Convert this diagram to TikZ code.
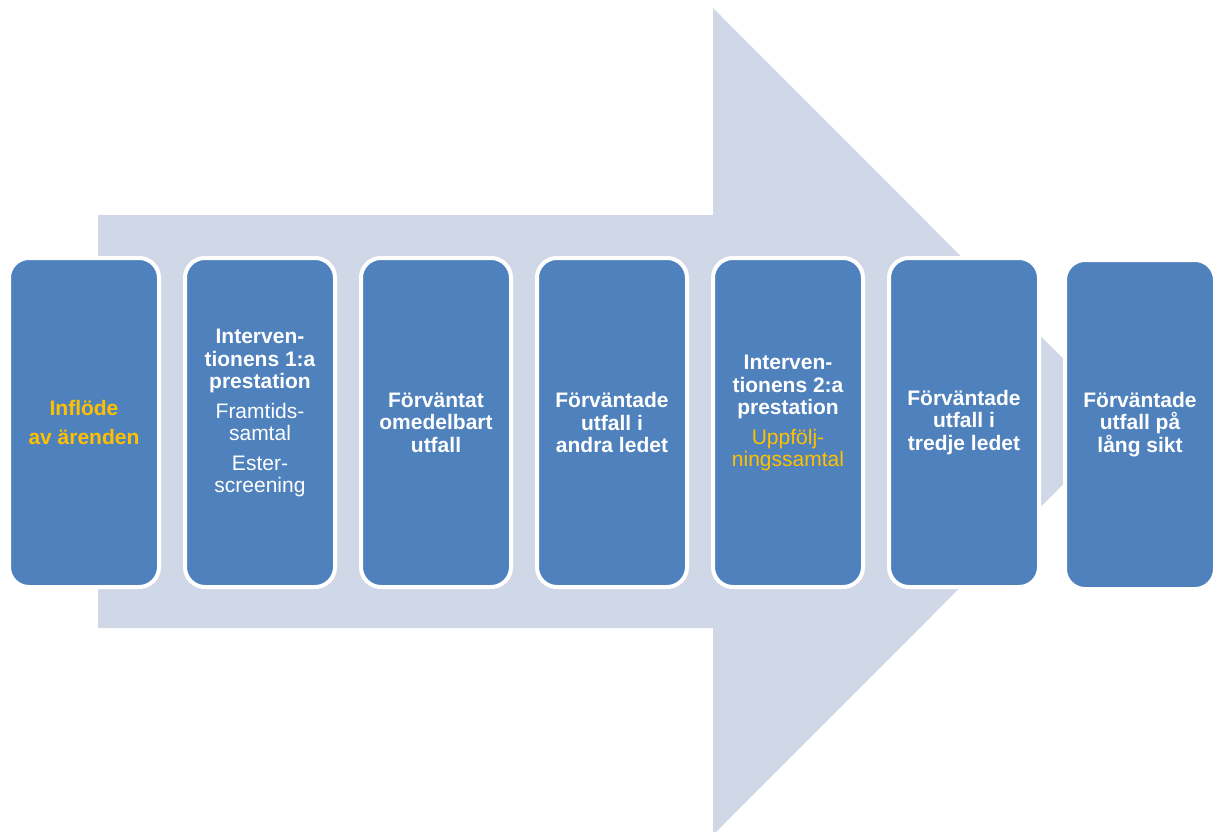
\documentclass[tikz,border=0pt]{standalone}
\usepackage{fontspec}
\setmainfont{Liberation Sans}
\definecolor{boxblue}{HTML}{4F81BD}
\definecolor{arrowgray}{HTML}{D0D8E8}
\definecolor{gold}{HTML}{FFC000}
\tikzset{
    every node/.style={rectangle, rounded corners=20pt, fill=boxblue, draw=white,
    	line width=4pt, minimum width=150pt, minimum height=329pt, align=center,
    	text=white, font=\fontsize{21}{22.5}\selectfont\bfseries}
}
\newcommand{\subtxt}[1]{{\normalfont\fontsize{21}{22.5}\selectfont #1}}

\begin{document}
\begin{tikzpicture}
	\useasboundingbox (0pt, 0pt) rectangle (1213pt, -832pt);
	\clip (0pt, 0pt) rectangle (1213pt, -832pt);
	\fill [arrowgray] (98pt, -215pt) -- (713pt, -215pt) -- (713pt, -8pt)
		-- (1126pt, -421.5pt) -- (713pt, -835pt) -- (713pt, -628pt)
		-- (98pt, -628pt) -- cycle;
	
	\node (1) [text=gold] at (84pt, -422.5pt) {Inflöde\\[7pt]av ärenden};
	\node (2) at (260pt, -422.5pt) {Interven-\\tionens 1:a\\prestation\\[7pt]%
		\subtxt{Framtids-}\\\subtxt{samtal}\\[7pt]\subtxt{Ester-}\\\subtxt{screening}\\\mbox{}};
	\node (3) at (436pt, -422.5pt) {Förväntat\\omedelbart\\utfall};
	\node (4) at (612pt, -422.5pt) {Förväntade\\utfall i\\andra ledet};
	\node (5) at (788pt, -422.5pt) {Interven-\\tionens 2:a\\prestation\\[7pt]%
		\subtxt{\textcolor{gold}{Uppfölj-}}\\\subtxt{\textcolor{gold}{ningssamtal}}\\\mbox{}};
	\node (6) at (964pt, -422.5pt) {Förväntade\\utfall i\\tredje ledet};
	\node (7) at (1140pt, -424.5pt) {Förväntade\\utfall på\\lång sikt};
\end{tikzpicture}
\end{document}
